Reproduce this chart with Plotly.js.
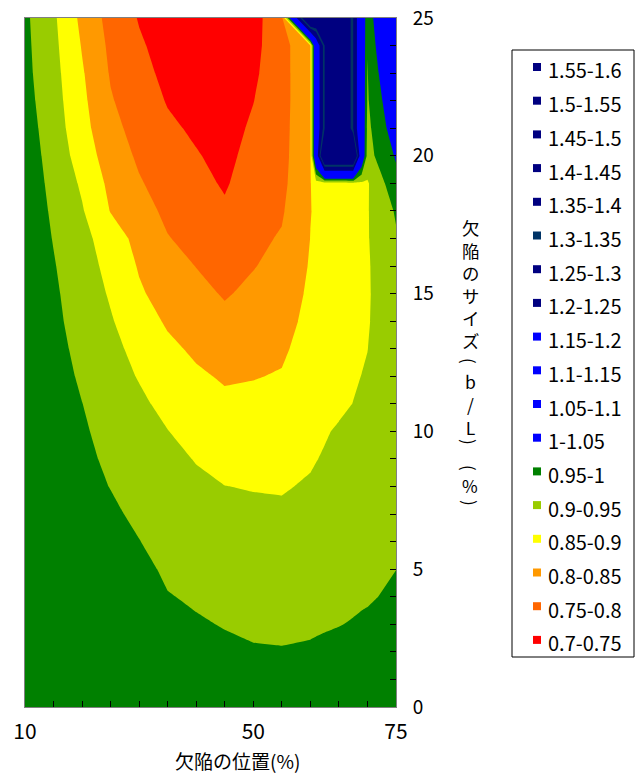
<!DOCTYPE html>
<html><head><meta charset="utf-8">
<script src="https://cdn.plot.ly/plotly-3.0.1.min.js"></script>
<style>html,body{margin:0;padding:0;background:#fff}#chart{width:636px;height:775px}</style>
</head><body><div id="chart"></div>
<script>
// ---- data ----
const defectPosition = [10,15,20,25,30,35,40,45,50,55,60,61,62.5,65,67.5,69,70,75];          // x (%)
const defectSize = [0,1,2,3,4,5,6,7,8,9,10,11,12,13,14,15,16,17,18,19,20,21,22,23,24,25]; // y (%)
const ratio = [
 [0.990,0.990,0.990,0.990,0.990,0.985,0.982,0.977,0.971,0.970,0.970,0.972,0.975,0.980,0.978,0.976,0.975,0.975],
 [0.990,0.989,0.987,0.988,0.987,0.977,0.972,0.967,0.962,0.961,0.962,0.964,0.966,0.970,0.969,0.968,0.968,0.970],
 [0.990,0.988,0.984,0.985,0.983,0.969,0.963,0.958,0.953,0.952,0.954,0.955,0.957,0.960,0.961,0.962,0.962,0.965],
 [0.990,0.987,0.981,0.980,0.977,0.9605,0.954,0.948,0.944,0.943,0.945,0.946,0.947,0.949,0.952,0.954,0.955,0.960],
 [0.990,0.986,0.978,0.975,0.970,0.952,0.945,0.939,0.935,0.934,0.937,0.938,0.940,0.9425,0.944,0.946,0.947,0.955],
 [0.990,0.985,0.975,0.970,0.962,0.943,0.935,0.929,0.927,0.925,0.929,0.930,0.932,0.936,0.938,0.940,0.941,0.9498],
 [0.989,0.983,0.971,0.965,0.951,0.935,0.926,0.920,0.917,0.916,0.921,0.923,0.926,0.930,0.932,0.934,0.935,0.945],
 [0.989,0.981,0.967,0.957,0.942,0.926,0.917,0.910,0.908,0.906,0.912,0.914,0.918,0.923,0.926,0.928,0.929,0.940],
 [0.989,0.979,0.963,0.949,0.933,0.918,0.908,0.9005,0.898,0.897,0.904,0.907,0.911,0.917,0.920,0.922,0.923,0.935],
 [0.988,0.977,0.959,0.943,0.927,0.911,0.898,0.887,0.886,0.886,0.896,0.899,0.903,0.910,0.913,0.916,0.918,0.932],
 [0.988,0.973,0.955,0.937,0.919,0.901,0.884,0.873,0.873,0.875,0.890,0.893,0.897,0.904,0.908,0.911,0.913,0.930],
 [0.988,0.971,0.9505,0.929,0.909,0.887,0.870,0.859,0.861,0.864,0.884,0.886,0.889,0.893,0.9005,0.905,0.908,0.929],
 [0.988,0.968,0.944,0.920,0.897,0.875,0.857,0.845,0.848,0.853,0.876,0.879,0.883,0.889,0.896,0.9005,0.9035,0.928],
 [0.987,0.964,0.938,0.912,0.887,0.860,0.842,0.828,0.835,0.843,0.869,0.872,0.877,0.883,0.890,0.896,0.8995,0.928],
 [0.986,0.960,0.932,0.904,0.872,0.844,0.828,0.811,0.823,0.833,0.863,0.866,0.871,0.879,0.887,0.893,0.897,0.929],
 [0.985,0.957,0.927,0.895,0.856,0.831,0.813,0.796,0.810,0.824,0.858,0.862,0.868,0.876,0.885,0.892,0.896,0.930],
 [0.984,0.953,0.921,0.886,0.846,0.818,0.799,0.783,0.798,0.813,0.854,0.858,0.865,0.875,0.885,0.892,0.896,0.935],
 [0.982,0.948,0.915,0.875,0.835,0.802,0.787,0.770,0.790,0.804,0.8505,0.855,0.863,0.874,0.884,0.892,0.897,0.945],
 [0.980,0.943,0.904,0.848,0.817,0.791,0.776,0.757,0.782,0.795,0.849,0.854,0.862,0.874,0.884,0.892,0.897,0.955],
 [0.979,0.937,0.893,0.838,0.804,0.781,0.764,0.745,0.774,0.788,0.847,0.880,0.880,0.880,0.886,0.892,0.895,0.985],
 [0.976,0.931,0.878,0.825,0.793,0.771,0.753,0.738,0.765,0.784,0.847,1.100,1.580,1.580,1.580,1.070,0.932,1.005],
 [0.972,0.925,0.867,0.814,0.783,0.758,0.743,0.732,0.757,0.782,0.847,1.100,1.350,1.580,1.300,1.070,0.938,1.030],
 [0.967,0.920,0.861,0.804,0.774,0.747,0.735,0.727,0.749,0.780,0.847,1.100,1.350,1.580,1.300,1.070,0.945,1.050],
 [0.963,0.916,0.855,0.796,0.764,0.739,0.728,0.723,0.742,0.780,0.847,1.100,1.350,1.580,1.300,1.070,0.948,1.080],
 [0.961,0.912,0.847,0.790,0.756,0.732,0.722,0.720,0.737,0.780,0.848,1.100,1.350,1.580,1.300,1.070,0.952,1.120],
 [0.959,0.908,0.838,0.783,0.747,0.727,0.718,0.718,0.733,0.785,1.580,1.500,1.550,1.580,1.300,1.070,0.955,1.180]
];
const xTickVals = [10,15,20,25,30,35,40,45,50,55,60,65,70,75];
const xTickText = ['10','','','','','','','','50','','','','','75'];
const yTickVals = [0,1,2,3,4,5,6,7,8,9,10,11,12,13,14,15,16,17,18,19,20,21,22,23,24,25];
const yTickText = ['0','','','','','5','','','','','10','','','','','15','','','','','20','','','','','25'];
// legend bands, low to high
const bandLabels = ['0.7-0.75','0.75-0.8','0.8-0.85','0.85-0.9','0.9-0.95','0.95-1','1-1.05','1.05-1.1','1.1-1.15','1.15-1.2','1.2-1.25','1.25-1.3','1.3-1.35','1.35-1.4','1.4-1.45','1.45-1.5','1.5-1.55','1.55-1.6'];
const bandColors = ['#FF0000','#FF6600','#FF9900','#FFFF00','#99CC00','#008000','#0000FF','#0000FF','#0000FF','#0000FF','#000080','#000080','#003366','#000080','#000080','#000080','#000080','#000080'];
const xTitle = '欠陥の位置(%)';
// vertical title pieces (top to bottom); parentheses are turned for vertical writing
const yTitleParts = ['欠<br>陥<br>の<br>サ<br>イ<br>ズ', '(', 'b<br>/<br>L', ')', '(', '%', ')'];

// ---- styling / layout ----
const levelStart = 0.7, levelEnd = 1.6, levelSize = 0.05;
const nLevels = Math.round((levelEnd - levelStart) / levelSize) + 1;
const fills = [bandColors[0]].concat(bandColors, [bandColors[bandColors.length - 1]]);
const colorscale = [];
fills.forEach((c, i) => {
  colorscale.push([Math.max(0, (i - 0.5) / nLevels), c]);
  colorscale.push([Math.min(1, (i + 0.5) / nLevels), c]);
});

const FONT = '"Noto Sans CJK JP", "Noto Sans", sans-serif';
const L = 25, R = 396, T = 18, B = 707;
const px2x = p => (p - L) / (R - L);
const px2y = p => (B - p) / (B - T);

const annotations = [];
const shapes = [];
// x axis title
annotations.push({xref:'paper', yref:'paper', x:px2x(237), y:px2y(760), text:xTitle, showarrow:false,
  xanchor:'center', yanchor:'middle', font:{size:19, family:FONT, color:'#000'}});
// vertical y title
const yTitleY = [284, 361, 404, 442, 468, 485, 503];
const yTitleSize = [17.4, 17, 17.5, 17, 17, 17, 17];
yTitleParts.forEach((t, i) => {
  const paren = (t === '(' || t === ')');
  annotations.push({xref:'paper', yref:'paper', x:px2x(470), y:px2y(yTitleY[i]), text:t, showarrow:false,
    xanchor:'center', yanchor:'middle', align:'center', textangle: paren ? 90 : 0, borderpad:0,
    font:{size:yTitleSize[i], family:FONT, color:'#000'}});
});
// legend box
shapes.push({type:'rect', xref:'paper', yref:'paper', x0:px2x(512), x1:px2x(634), y0:px2y(657), y1:px2y(50),
  line:{color:'#000', width:1}, fillcolor:'rgba(0,0,0,0)'});
const nb = bandLabels.length;
for (let k = 0; k < nb; k++) {
  const idx = nb - 1 - k;        // top entry = highest band
  const cy = 70 + k * 33.7;
  shapes.push({type:'rect', xref:'paper', yref:'paper', x0:px2x(533), x1:px2x(541), y0:px2y(cy + 1), y1:px2y(cy - 7),
    line:{width:0}, fillcolor:bandColors[idx]});
  annotations.push({xref:'paper', yref:'paper', x:px2x(546), y:px2y(cy), text:bandLabels[idx], showarrow:false,
    xanchor:'left', yanchor:'middle', font:{size:20, family:FONT, color:'#000'}});
}

const trace = {
  type:'contour', x:defectPosition, y:defectSize, z:ratio,
  autocontour:false,
  contours:{start:levelStart, end:levelEnd, size:levelSize, coloring:'fill', showlines:false},
  line:{width:0, smoothing:0},
  colorscale:colorscale, showscale:false, hoverinfo:'skip'
};

const layout = {
  width:636, height:775,
  margin:{l:L, r:636 - R, t:T, b:775 - B, pad:0},
  paper_bgcolor:'#fff', plot_bgcolor:'#fff',
  font:{family:FONT, color:'#000'},
  showlegend:false,
  xaxis:{range:[10,75], tickmode:'array', tickvals:xTickVals, ticktext:xTickText,
    ticks:'inside', ticklen:6, tickwidth:1, tickcolor:'#000',
    showline:true, linecolor:'#808080', linewidth:1, mirror:true,
    showgrid:false, zeroline:false, tickfont:{size:21, family:FONT, color:'#000'},
    ticklabelstandoff:6, fixedrange:true},
  yaxis:{range:[0,25], side:'right', tickmode:'array', tickvals:yTickVals, ticktext:yTickText,
    ticks:'inside', ticklen:6, tickwidth:1, tickcolor:'#000',
    showline:true, linecolor:'#808080', linewidth:1, mirror:true,
    showgrid:false, zeroline:false, tickfont:{size:19, family:FONT, color:'#000'},
    ticklabelstandoff:12, fixedrange:true},
  annotations:annotations, shapes:shapes
};

Plotly.newPlot('chart', [trace], layout, {staticPlot:true, displayModeBar:false});
</script>
</body></html>
